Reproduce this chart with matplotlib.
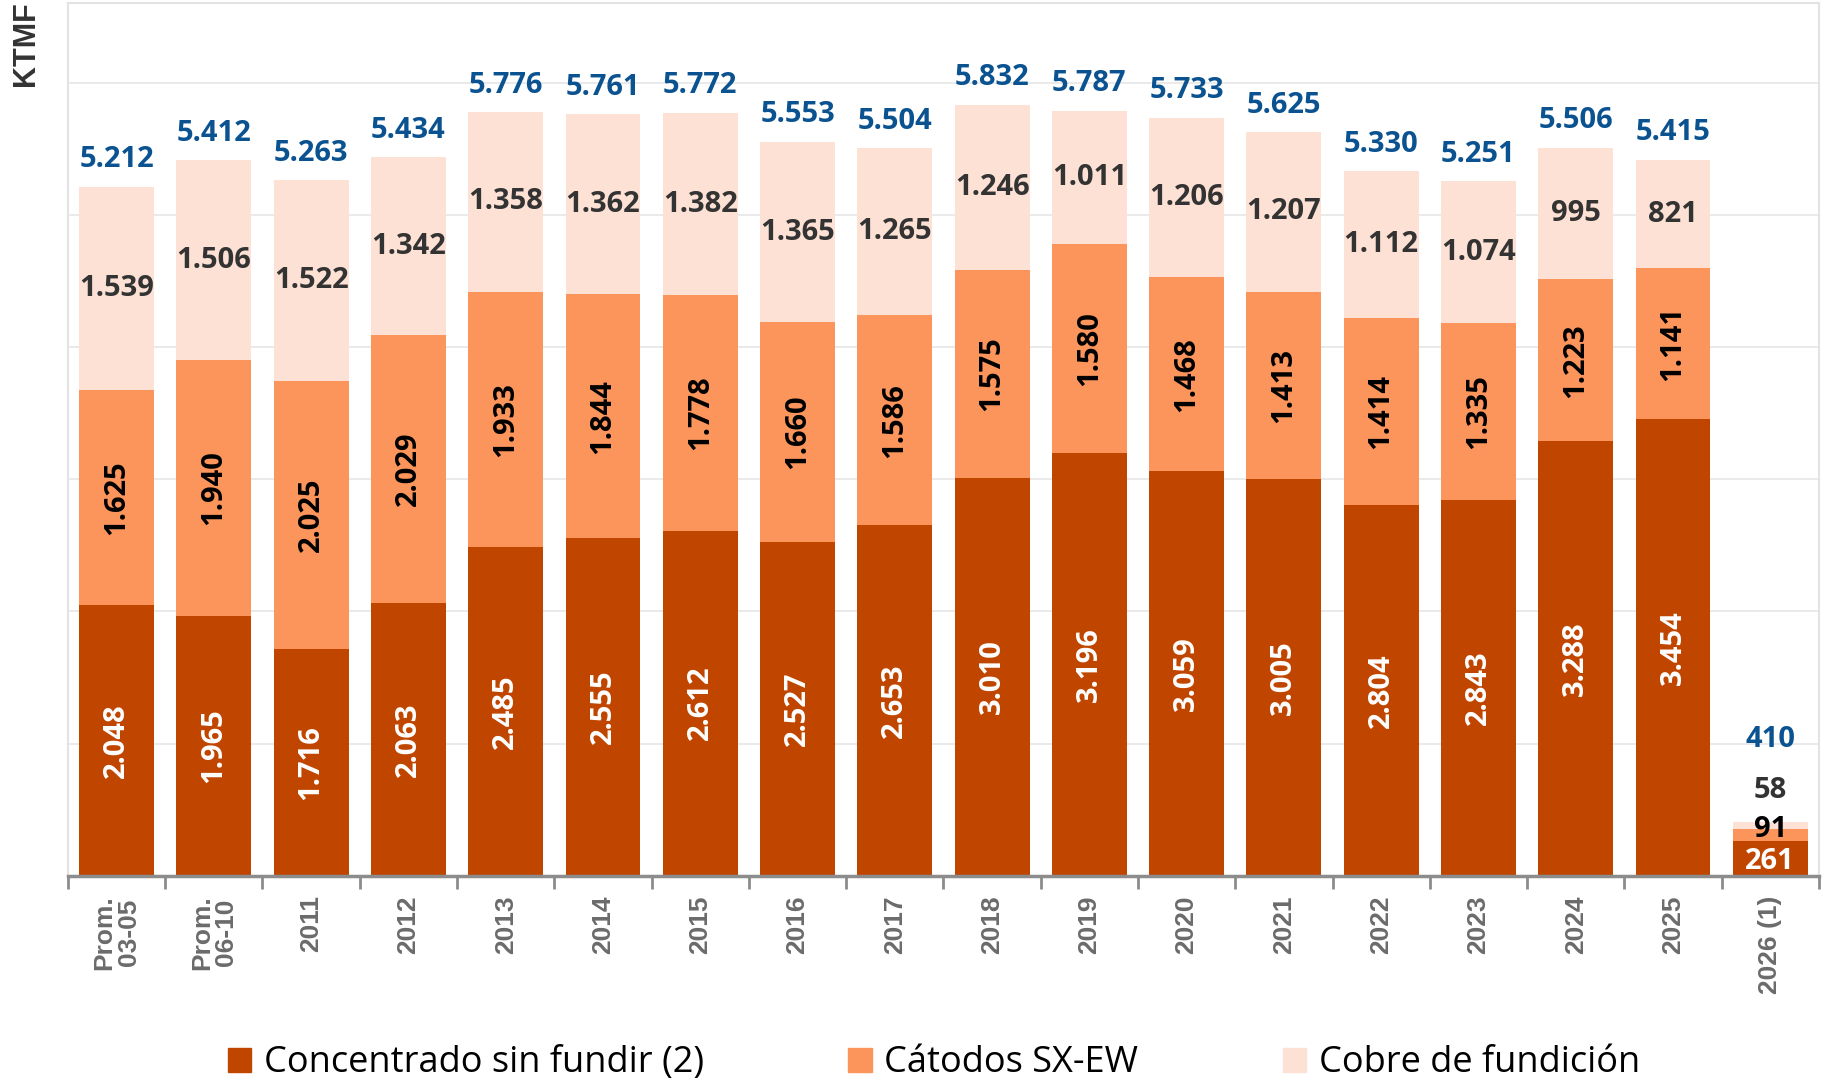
import numpy as np
import matplotlib.pyplot as plt
from matplotlib.patches import Patch

# datos (KTMF)
categorias = ['Prom.\n03-05', 'Prom.\n06-10', '2011', '2012', '2013', '2014', '2015',
              '2016', '2017', '2018', '2019', '2020', '2021', '2022', '2023', '2024',
              '2025', '2026 (1)']
concentrado = [2048, 1965, 1716, 2063, 2485, 2555, 2612, 2527, 2653, 3010, 3196, 3059,
               3005, 2804, 2843, 3288, 3454, 261]
catodos = [1625, 1940, 2025, 2029, 1933, 1844, 1778, 1660, 1586, 1575, 1580, 1468,
           1413, 1414, 1335, 1223, 1141, 91]
fundicion = [1539, 1506, 1522, 1342, 1358, 1362, 1382, 1365, 1265, 1246, 1011, 1206,
             1207, 1112, 1074, 995, 821, 58]
totales = [5212, 5412, 5263, 5434, 5776, 5761, 5772, 5553, 5504, 5832, 5787, 5733,
           5625, 5330, 5251, 5506, 5415, 410]

c_conc = '#C04600'
c_cat = '#FC955B'
c_fund = '#FDE1D4'
c_azul = '#0B5290'


def fmt(v):
    return f'{v:,}'.replace(',', '.')


fig = plt.figure(figsize=(18.31, 10.84), dpi=100)
ax = fig.add_axes([0.0371, 0.192, 0.9563, 0.805])

x = np.arange(len(categorias))
conc = np.array(concentrado)
cat = np.array(catodos)
fund = np.array(fundicion)
w = 0.77
ax.bar(x, conc, w, color=c_conc, zorder=3)
ax.bar(x, cat, w, bottom=conc, color=c_cat, zorder=3)
ax.bar(x, fund, w, bottom=conc + cat, color=c_fund, zorder=3)

ax.set_xlim(-0.5, len(categorias) - 0.5)
ax.set_ylim(0, 6600)
ax.set_yticks(np.arange(0, 6001, 1000))
ax.set_yticklabels([])
ax.tick_params(axis='y', length=0)
ax.grid(axis='y', color='#e6e6e6', lw=1.2, zorder=0)

ax.set_xticks(x)
ax.set_xticklabels(categorias, rotation=90, fontsize=19, fontweight='bold',
                   color='#6b6b6b', family='Liberation Sans', linespacing=1.0)
ax.tick_params(axis='x', length=0, pad=14)
ax.set_xticks(np.arange(-0.5, len(categorias), 1), minor=True)
ax.tick_params(axis='x', which='minor', length=9, width=2, color='#8c8c8c')

for s in ['left', 'top', 'right']:
    ax.spines[s].set_color('#e3e3e3')
    ax.spines[s].set_linewidth(1.5)
ax.spines['bottom'].set_color('#8c8c8c')
ax.spines['bottom'].set_linewidth(2.5)
ax.spines['bottom'].set_zorder(4)

fv = dict(family='Open Sans', fontweight='bold', fontsize=21)
n = len(categorias)
for i in range(n - 1):
    ax.text(x[i], conc[i] / 2, fmt(conc[i]), rotation=90, ha='center', va='center',
            color='white', zorder=5, **fv)
    ax.text(x[i], conc[i] + cat[i] / 2, fmt(cat[i]), rotation=90, ha='center',
            va='center', color='black', zorder=5, **fv)
    ax.text(x[i], conc[i] + cat[i] + fund[i] / 2, fmt(fund[i]), ha='center',
            va='center', color='#333333', zorder=5, **fv)
    ax.annotate(fmt(totales[i]), (x[i], totales[i]), xytext=(0, 9),
                textcoords='offset points', ha='center', va='bottom', color=c_azul,
                zorder=5, **fv)

# ultimo año (parcial)
i = n - 1
ax.text(x[i], conc[i] / 2 - 20, fmt(conc[i]), ha='center', va='center', color='white',
        zorder=5, **fv)
ax.text(x[i], conc[i] + cat[i], fmt(cat[i]), ha='center', va='center', color='black',
        zorder=5, **fv)
ax.annotate(fmt(fund[i]), (x[i], totales[i]), xytext=(0, 12), textcoords='offset points',
            ha='center', va='bottom', color='#333333', zorder=5, **fv)
ax.annotate(fmt(totales[i]), (x[i], totales[i]), xytext=(0, 49),
            textcoords='offset points', ha='center', va='bottom', color=c_azul,
            zorder=5, **fv)

fig.text(0.014, 0.96, 'KTMF', rotation=90, ha='center', va='center', fontsize=22,
         fontweight='bold', color='#333333', family='Liberation Sans')

handles = [Patch(color=c_conc), Patch(color=c_cat), Patch(color=c_fund)]
nombres = ['Concentrado sin fundir (2)', 'Cátodos SX-EW', 'Cobre de fundición']
fig.legend(handles, nombres, loc='center', bbox_to_anchor=(0.51, 0.019), ncol=3,
           frameon=False, prop={'family': 'Open Sans', 'size': 26},
           handlelength=0.65, handleheight=0.65, handletextpad=0.35, columnspacing=4.0)

fig.savefig('out.png', dpi=100)
